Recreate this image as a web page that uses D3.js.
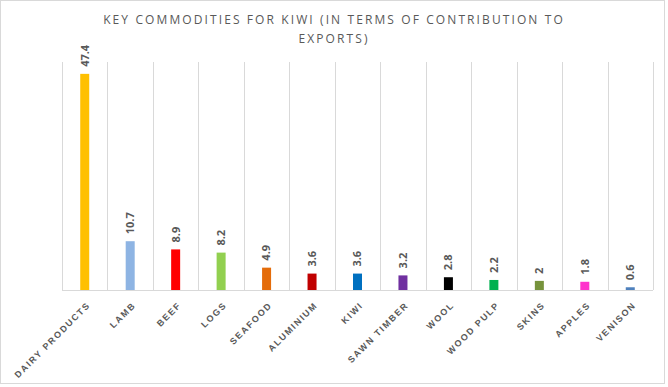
<!DOCTYPE html>
<html>
<head>
<meta charset="utf-8">
<script src="https://cdn.jsdelivr.net/npm/d3@7"></script>
<style>
  html, body { margin: 0; padding: 0; background: #fff; }
  svg { display: block; }
</style>
</head>
<body>
<div id="chart"></div>
<script>
// chart data
const categories = ['DAIRY PRODUCTS', 'LAMB', 'BEEF', 'LOGS', 'SEAFOOD', 'ALUMINIUM', 'KIWI',
  'SAWN TIMBER', 'WOOL', 'WOOD PULP', 'SKINS', 'APPLES', 'VENISON']
const values = [47.4, 10.7, 8.9, 8.2, 4.9, 3.6, 3.6, 3.2, 2.8, 2.2, 2, 1.8, 0.6]
const titleLines = ['KEY COMMODITIES FOR KIWI (IN TERMS OF CONTRIBUTION TO', 'EXPORTS)']

// one colour per bar (excel style palette)
const barColors = ['#ffc000', '#8eb4e3', '#ff0000', '#92d050', '#e46c0a', '#c00000', '#0070c0',
  '#7030a0', '#000000', '#00b050', '#77933c', '#ff33cc', '#4f81bd']

const width = 668, height = 387
const plot = { left: 62, right: 653, top: 62, bottom: 290 }
const textColor = '#595959'
const gridColor = '#d9d9d9'

const svg = d3.select('#chart').append('svg')
    .attr('width', width)
    .attr('height', height)
    .style('font-family', '"Open Sans", sans-serif')

// outer frame
svg.append('rect')
    .attr('x', 0.5).attr('y', 0.5)
    .attr('width', 664).attr('height', 383)
    .attr('fill', '#fff')
    .attr('stroke', gridColor)

const x = d3.scaleBand()
    .domain(categories)
    .range([plot.left, plot.right])
    .padding(0)

const y = d3.scaleLinear()
    .domain([0, 50])
    .range([plot.bottom, plot.top])

const barWidth = 9

// vertical gridlines on category boundaries
const edges = categories.map(c => x(c)).concat([x(categories[categories.length - 1]) + x.bandwidth()])
svg.append('g')
  .selectAll('line')
  .data(edges)
  .join('line')
    .attr('x1', d => Math.round(d) + 0.5)
    .attr('x2', d => Math.round(d) + 0.5)
    .attr('y1', plot.top)
    .attr('y2', plot.bottom)
    .attr('stroke', gridColor)

// category axis
const xAxis = svg.append('g')
    .attr('transform', `translate(0, ${plot.bottom + 0.5})`)
    .call(d3.axisBottom(x).tickSize(0).tickPadding(0))

xAxis.select('.domain').attr('stroke', gridColor).attr('d', `M${plot.left},0H${plot.right}`)

xAxis.selectAll('.tick text')
    .attr('fill', textColor)
    .attr('font-size', '9px')
    .attr('font-weight', 'bold')
    .attr('letter-spacing', '1.6px')
    .attr('text-anchor', 'end')
    .attr('dy', '0.35em')
    .attr('transform', 'translate(4, 13) rotate(-45)')
    .attr('y', 0)

// bars
const bars = categories.map((c, i) => ({ name: c, value: values[i], color: barColors[i] }))

svg.append('g')
  .selectAll('rect')
  .data(bars)
  .join('rect')
    .attr('x', d => x(d.name) + x.bandwidth() / 2 - barWidth / 2)
    .attr('y', d => y(d.value))
    .attr('width', barWidth)
    .attr('height', d => y(0) - y(d.value))
    .attr('fill', d => d.color)

// value labels, rotated
svg.append('g')
  .selectAll('text')
  .data(bars)
  .join('text')
    .attr('transform', d => `translate(${x(d.name) + x.bandwidth() / 2}, ${y(d.value) - 7}) rotate(-90)`)
    .attr('dy', '0.35em')
    .attr('text-anchor', 'start')
    .attr('fill', textColor)
    .attr('font-size', '11px')
    .attr('font-weight', 'bold')
    .text(d => d.value)

// title
svg.append('g')
  .selectAll('text')
  .data(titleLines)
  .join('text')
    .attr('x', 334)
    .attr('y', (d, i) => 24 + i * 18.5)
    .attr('text-anchor', 'middle')
    .attr('fill', textColor)
    .attr('font-size', '12px')
    .attr('letter-spacing', '2.1px')
    .text(d => d)
</script>
</body>
</html>
